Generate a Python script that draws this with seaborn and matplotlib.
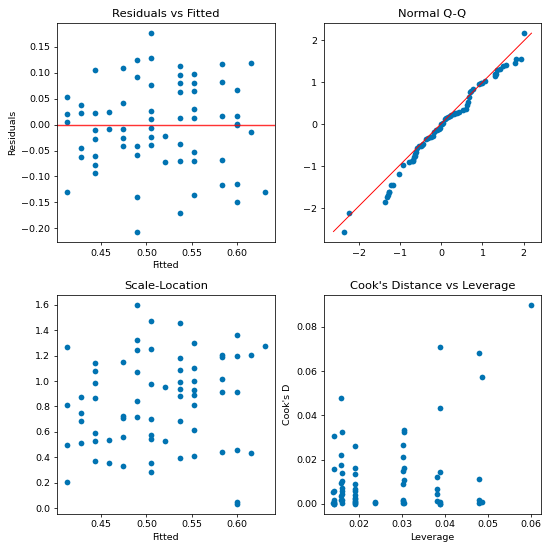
import pandas as pd
import seaborn as sns

from matplotlib import pyplot as plt

# fitted level of each of the 68 observations
fitted = ([0.4118] * 4 + [0.4272] * 4 + [0.4430] * 7 + [0.4585] * 2 + [0.4743] * 5
          + [0.4897] * 6 + [0.5055] * 8 + [0.5210] * 2 + [0.5368] * 8 + [0.5522] * 8
          + [0.5838] * 5 + [0.6000] * 6 + [0.6151] * 2 + [0.6309] * 1)

residuals = [0.0538, 0.0205, 0.0045, -0.1295,
             0.0378, 0.0218, -0.0449, -0.0622,
             0.1058, 0.0224, -0.0103, -0.0276, -0.0603, -0.0776, -0.0942,
             0.0237, -0.0090,
             0.1083, 0.0417, -0.0083, -0.0250, -0.0417,
             0.1256, 0.0923, -0.0404, -0.0577, -0.1404, -0.2070,
             0.1769, 0.1276, 0.0769, 0.0269, 0.0103, -0.0058, -0.0231, -0.0397,
             -0.0218, -0.0718,
             0.1128, 0.0962, 0.0795, 0.0628, 0.0122, -0.0372, -0.0705, -0.1712,
             0.0968, 0.0801, 0.0641, 0.0301, 0.0135, -0.0526, -0.0692, -0.1359,
             0.1160, 0.0827, 0.0160, -0.0673, -0.1167,
             0.0667, 0.0167, 0.0010, -0.0005, -0.1154, -0.1487,
             0.1186, -0.0147,
             -0.1301]

scale_loc = [0.812, 0.497, 0.206, 1.267,
             0.684, 0.512, 0.752, 0.877,
             1.139, 0.525, 0.372, 0.590, 0.869, 0.983, 1.082,
             0.538, 0.354,
             1.152, 0.723, 0.330, 0.562, 0.710,
             1.246, 1.069, 0.713, 0.845, 1.319, 1.600,
             1.475, 1.251, 0.976, 0.575, 0.356, 0.286, 0.541, 0.705,
             0.525, 0.950,
             1.178, 1.090, 0.991, 0.882, 0.393, 0.687, 0.939, 1.452,
             1.098, 0.996, 0.890, 0.614, 0.411, 0.812, 0.931, 1.298,
             1.191, 1.012, 0.445, 0.916, 1.204,
             0.911, 0.460, 0.052, 0.036, 1.199, 1.358,
             1.207, 0.437,
             1.272]

leverage = ([0.0480] * 4 + [0.0383] * 4 + [0.0302] * 7 + [0.0238] * 2 + [0.0190] * 5
            + [0.0158] * 6 + [0.0143] * 8 + [0.0141] * 2 + [0.0160] * 8 + [0.0191] * 8
            + [0.0306] * 5 + [0.0388] * 6 + [0.0486] * 2 + [0.0602] * 1)

cooks_d = [0.0114, 0.0016, 0.0003, 0.0684,
           0.0045, 0.0015, 0.0066, 0.0120,
           0.0267, 0.0012, 0.0003, 0.0019, 0.0091, 0.0147, 0.0212,
           0.0008, 0.0003,
           0.0162, 0.0025, 0.0001, 0.0009, 0.0023,
           0.0177, 0.0096, 0.0019, 0.0037, 0.0222, 0.0480,
           0.0307, 0.0159, 0.0059, 0.0007, 0.0001, 0.0001, 0.0006, 0.0016,
           0.0005, 0.0053,
           0.0141, 0.0103, 0.0071, 0.0044, 0.0002, 0.0016, 0.0057, 0.0326,
           0.0134, 0.0090, 0.0058, 0.0013, 0.0003, 0.0040, 0.0069, 0.0262,
           0.0327, 0.0163, 0.0006, 0.0110, 0.0336,
           0.0142, 0.0009, 0.0001, 0.0001, 0.0432, 0.0710,
           0.0573, 0.0010,
           0.0901]

# Normal Q-Q points (sorted standardised residuals)
qq_theoretical = [-2.37, -2.24, -1.36, -1.33, -1.30, -1.28, -1.26, -1.22, -1.17, -1.04,
                  -0.94, -0.79, -0.72, -0.70, -0.68, -0.66, -0.65, -0.63, -0.62, -0.58,
                  -0.54, -0.50, -0.47, -0.44, -0.38, -0.33, -0.26, -0.20, -0.17, -0.14,
                  -0.10, -0.06, -0.02, 0.00,
                  0.02, 0.04, 0.08, 0.12, 0.16, 0.20, 0.24, 0.30, 0.34, 0.38,
                  0.44, 0.52, 0.60, 0.63, 0.66, 0.67, 0.70, 0.73, 0.78, 0.92,
                  0.96, 1.00, 1.06, 1.30, 1.31, 1.32, 1.36, 1.42, 1.50, 1.58,
                  1.78, 1.82, 1.94, 2.01]
qq_sample = [-2.560, -2.108, -1.844, -1.740, -1.685, -1.618, -1.605, -1.450, -1.438, -1.171,
             -0.966, -0.903, -0.882, -0.867, -0.839, -0.769, -0.755, -0.714, -0.659, -0.566,
             -0.508, -0.504, -0.497, -0.472, -0.348, -0.316, -0.293, -0.276, -0.191, -0.138,
             -0.125, -0.109, -0.082, -0.001,
             0.003, 0.042, 0.127, 0.154, 0.169, 0.198, 0.212, 0.247, 0.262, 0.276,
             0.289, 0.331, 0.377, 0.468, 0.523, 0.659, 0.778, 0.792, 0.830, 0.953,
             0.982, 0.992, 1.024, 1.143, 1.188, 1.206, 1.297, 1.327, 1.388, 1.418,
             1.457, 1.553, 1.565, 2.176]
qq_line_x = [-2.62, 2.19]
qq_line_y = [-2.55, 2.17]

dot_color = "#0173b2"

df = pd.DataFrame({"fitted": fitted, "resid": residuals, "scale": scale_loc,
                   "lev": leverage, "cooks": cooks_d})

fig, axes = plt.subplots(2, 2, figsize=(8, 8.015))

ax = axes[0, 0]
sns.scatterplot(data=df, x="fitted", y="resid", color=dot_color, linewidth=0, ax=ax)
ax.axhline(0, color="red", lw=1.5, alpha=0.8)
ax.set_title("Residuals vs Fitted")
ax.set_xlabel("Fitted")
ax.set_ylabel("Residuals")

ax = axes[0, 1]
sns.scatterplot(x=qq_theoretical, y=qq_sample, color=dot_color, linewidth=0, ax=ax)
ax.plot(qq_line_x, qq_line_y, color="red", lw=1)
ax.set_title("Normal Q-Q")

ax = axes[1, 0]
sns.scatterplot(data=df, x="fitted", y="scale", color=dot_color, linewidth=0, ax=ax)
ax.set_title("Scale-Location")
ax.set_xlabel("Fitted")
ax.set_ylabel("")

ax = axes[1, 1]
sns.scatterplot(data=df, x="lev", y="cooks", color=dot_color, linewidth=0, ax=ax)
ax.set_title("Cook's Distance vs Leverage")
ax.set_xlabel("Leverage")
ax.set_ylabel("Cook's D")

plt.tight_layout(pad=0.8)
plt.savefig("out.png", dpi=68.75)
